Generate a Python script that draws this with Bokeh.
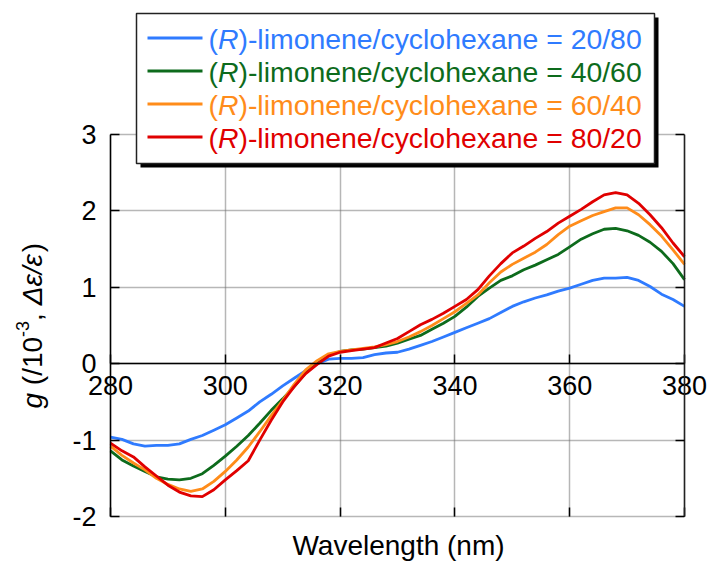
import math

from bokeh.plotting import figure
from bokeh.models import (Range1d, LinearAxis, FixedTicker, Grid, Label,
                          BoxAnnotation, Arrow)
from bokeh.embed import file_html
from bokeh.resources import INLINE

# ---- data: CD dissymmetry factor g of the film in (R)-limonene/cyclohexane ----
wavelength = list(range(280, 381, 2))

g_20_80 = [-0.96, -0.99, -1.05, -1.08, -1.07, -1.07, -1.05, -0.99, -0.94, -0.87,
           -0.80, -0.71, -0.62, -0.50, -0.40, -0.29, -0.19, -0.09, 0.00, 0.06,
           0.07, 0.07, 0.08, 0.12, 0.14, 0.15, 0.19, 0.24, 0.29, 0.35,
           0.41, 0.47, 0.53, 0.59, 0.67, 0.75, 0.81, 0.86, 0.90, 0.95,
           0.99, 1.04, 1.09, 1.12, 1.12, 1.13, 1.09, 1.01, 0.91, 0.84, 0.75]

g_40_60 = [-1.14, -1.26, -1.34, -1.41, -1.48, -1.51, -1.52, -1.50, -1.44, -1.33,
           -1.21, -1.08, -0.94, -0.78, -0.61, -0.46, -0.30, -0.12, 0.02, 0.11,
           0.16, 0.18, 0.19, 0.21, 0.23, 0.27, 0.32, 0.37, 0.45, 0.53,
           0.62, 0.74, 0.88, 0.99, 1.09, 1.15, 1.23, 1.29, 1.36, 1.43,
           1.53, 1.63, 1.70, 1.76, 1.77, 1.74, 1.68, 1.59, 1.47, 1.31, 1.10]

g_60_40 = [-1.08, -1.20, -1.30, -1.39, -1.50, -1.58, -1.64, -1.67, -1.64, -1.54,
           -1.41, -1.26, -1.09, -0.89, -0.68, -0.48, -0.27, -0.08, 0.04, 0.13,
           0.16, 0.18, 0.20, 0.22, 0.25, 0.29, 0.35, 0.42, 0.50, 0.59,
           0.68, 0.79, 0.90, 1.06, 1.20, 1.30, 1.38, 1.46, 1.56, 1.69,
           1.80, 1.87, 1.94, 1.99, 2.04, 2.04, 1.95, 1.82, 1.67, 1.49, 1.30]

g_80_20 = [-1.04, -1.14, -1.22, -1.35, -1.47, -1.59, -1.68, -1.73, -1.74, -1.65,
           -1.52, -1.40, -1.27, -1.00, -0.74, -0.50, -0.30, -0.13, -0.01, 0.10,
           0.15, 0.17, 0.19, 0.21, 0.27, 0.33, 0.42, 0.51, 0.58, 0.66,
           0.75, 0.84, 0.97, 1.15, 1.31, 1.45, 1.54, 1.64, 1.73, 1.84,
           1.93, 2.02, 2.12, 2.21, 2.24, 2.21, 2.10, 1.95, 1.78, 1.58, 1.40]

ratios = ["20/80", "40/60", "60/40", "80/20"]
series = [g_20_80, g_40_60, g_60_40, g_80_20]
colors = ["#2f7bff", "#0d6b1c", "#ff8c1a", "#e00000"]

x_ticks = [280, 300, 320, 340, 360, 380]
y_ticks = [-2, -1, 0, 1, 2, 3]

X_MIN, X_MAX = 280, 380
Y_MIN, Y_MAX = -2, 3

# where the data box sits on the canvas (pixels)
W, H = 708, 563
BOX_PX_L, BOX_PX_R, BOX_PX_T, BOX_PX_B = 110, 684, 134, 516

FONT = "Liberation Sans"


def dx(px):
    """canvas x pixel -> wavelength units"""
    return X_MIN + (px - BOX_PX_L) * (X_MAX - X_MIN) / (BOX_PX_R - BOX_PX_L)


def dy(py):
    """canvas y pixel -> g units"""
    return Y_MAX - (py - BOX_PX_T) * (Y_MAX - Y_MIN) / (BOX_PX_B - BOX_PX_T)


# the frame covers the whole canvas so the legend and titles can sit around the data box
p = figure(width=W, height=H, output_backend="svg", toolbar_location=None,
           x_range=Range1d(dx(0), dx(W)), y_range=Range1d(dy(H), dy(0)),
           x_axis_type=None, y_axis_type=None, min_border=0)
p.outline_line_color = None
p.background_fill_color = "white"
p.border_fill_color = "white"

# dotted grid limited to the data box
grid_style = dict(grid_line_color="#6e6e6e", grid_line_width=1.5, grid_line_dash="1 1")
p.add_layout(Grid(dimension=0, ticker=FixedTicker(ticks=x_ticks), bounds=(X_MIN, X_MAX),
                  cross_bounds=(Y_MIN, Y_MAX), **grid_style), "center")
p.add_layout(Grid(dimension=1, ticker=FixedTicker(ticks=y_ticks), bounds=(Y_MIN, Y_MAX),
                  cross_bounds=(X_MIN, X_MAX), **grid_style), "center")

tick_style = dict(major_tick_in=9, major_tick_out=0, minor_tick_in=0, minor_tick_out=0,
                  major_tick_line_color="black", major_tick_line_width=1.5)
label_style = dict(major_label_text_font=FONT, major_label_text_font_size="27px",
                   major_label_text_color="black")
minus_labels = {t: str(t) for t in y_ticks}

# x axis drawn along g = 0, labels below it
x_zero = LinearAxis(ticker=FixedTicker(ticks=x_ticks), fixed_location=0,
                    bounds=(X_MIN, X_MAX), axis_line_color="black", axis_line_width=1.5,
                    major_label_standoff=12, **tick_style, **label_style)
p.add_layout(x_zero, "below")

# bottom edge of the data box: ticks only
x_bottom = LinearAxis(ticker=FixedTicker(ticks=x_ticks), fixed_location=Y_MIN,
                      bounds=(X_MIN, X_MAX), axis_line_color=None,
                      major_label_text_color=None, major_label_text_font_size="10px",
                      major_label_standoff=0, **tick_style)
p.add_layout(x_bottom, "below")

y_left = LinearAxis(ticker=FixedTicker(ticks=y_ticks), fixed_location=X_MIN,
                    bounds=(Y_MIN, Y_MAX), axis_line_color="black", axis_line_width=1.5,
                    major_label_standoff=14, major_label_overrides=minus_labels,
                    **tick_style, **label_style)
p.add_layout(y_left, "left")

y_right = LinearAxis(ticker=FixedTicker(ticks=y_ticks), fixed_location=X_MAX,
                     bounds=(Y_MIN, Y_MAX), axis_line_color="#222222", axis_line_width=1.5,
                     major_label_text_color=None, major_label_text_font_size="10px",
                     major_label_standoff=0, **tick_style)
p.add_layout(y_right, "right")

# spectra
for vals, col in zip(series, colors):
    p.line(wavelength, vals, line_color=col, line_width=2.8)

# ---- legend: shadowed box with coloured entries ----
LEG_L, LEG_R, LEG_T, LEG_B, SHADOW = 136, 654, 13, 163, 4
p.add_layout(BoxAnnotation(left=dx(LEG_L + SHADOW), right=dx(LEG_R + SHADOW),
                           top=dy(LEG_T + SHADOW), bottom=dy(LEG_B + SHADOW),
                           fill_color="black", fill_alpha=1.0, line_color=None))
p.add_layout(BoxAnnotation(left=dx(LEG_L), right=dx(LEG_R), top=dy(LEG_T), bottom=dy(LEG_B),
                           fill_color="white", fill_alpha=1.0, line_color="#222222",
                           line_alpha=1.0, line_width=1.5))

ROW0, ROW_STEP = 37.5, 33.0
LEG_FS = 28.4
for i, (ratio, col) in enumerate(zip(ratios, colors)):
    row = ROW0 + i * ROW_STEP
    p.add_layout(Arrow(end=None, x_start=dx(147), x_end=dx(202), y_start=dy(row), y_end=dy(row),
                       line_color=col, line_width=2.8))
    pen = 208.0
    pieces = [("(", "normal", 0.333), ("R", "italic", 0.722),
              (")-limonene/cyclohexane = " + ratio, "normal", 0.0)]
    for txt, style, adv in pieces:
        p.add_layout(Label(x=dx(pen), y=dy(row + 1), text=txt, text_font=FONT,
                           text_font_size=f"{LEG_FS}px", text_font_style=style,
                           text_color=col, text_baseline="middle", text_align="left"))
        pen += adv * LEG_FS

# ---- axis titles ----
p.add_layout(Label(x=dx(398), y=dy(545), text="Wavelength (nm)", text_font=FONT,
                   text_font_size="28px", text_color="black", text_align="center",
                   text_baseline="alphabetic"))

YL_FS, YL_SUP = 28, 18
YL_BASE = 32  # baseline column of the rotated title
SPACE = 0.278 * YL_FS
ypen = 408.0
# (text, style, size, baseline shift, advance to the next piece)
ylab_pieces = [("g", "italic", YL_FS, 0, 0.556 * YL_FS + SPACE),
               ("(/10", "normal", YL_FS, 0, (0.333 + 0.278 + 1.112) * YL_FS),
               ("-3", "normal", YL_SUP, -10, (0.333 + 0.556) * YL_SUP),
               (",", "normal", YL_FS, 0, 0.278 * YL_FS + SPACE),
               ("\u0394\u03b5/\u03b5", "italic", YL_FS, 0, 1.9 * YL_FS),
               (")", "normal", YL_FS, 0, 0.333 * YL_FS)]
for txt, style, fs, shift, adv in ylab_pieces:
    p.add_layout(Label(x=dx(YL_BASE + shift), y=dy(ypen), text=txt, text_font=FONT,
                       text_font_size=f"{fs}px", text_font_style=style, text_color="black",
                       angle=math.pi / 2, text_align="left", text_baseline="alphabetic"))
    ypen -= adv

open("out.html", "w").write(file_html(p, INLINE))
